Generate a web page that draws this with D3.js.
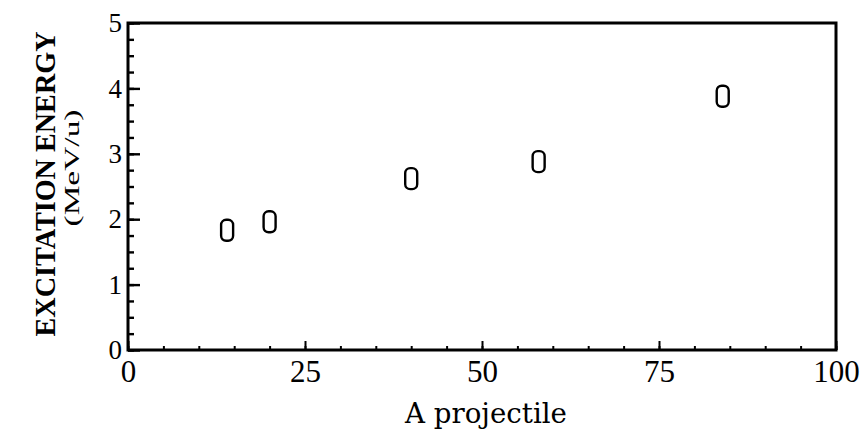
<!DOCTYPE html>
<html>
<head>
<meta charset="utf-8">
<script src="https://cdn.jsdelivr.net/npm/d3@7"></script>
<style>
  html, body { margin: 0; padding: 0; background: #fff; }
  svg { display: block; }
</style>
</head>
<body>
<svg id="chart" width="867" height="430"></svg>
<script>
// Projectile mass number vs. excitation energy per nucleon
const aProjectile = [14, 20, 40, 58, 84];
const excitation = [1.83, 1.96, 2.62, 2.88, 3.88];

const xMajorTicks = [0, 25, 50, 75, 100];
const yMajorTicks = [0, 1, 2, 3, 4, 5];
const xLabel = "A projectile";
const yLabelLines = ["EXCITATION ENERGY", "(MeV/u)"];

const svg = d3.select("#chart");
const plotL = 128, plotR = 836, plotT = 23, plotB = 350;

const x = d3.scaleLinear().domain([0, 100]).range([plotL, plotR]);
const y = d3.scaleLinear().domain([0, 5]).range([plotB, plotT]);

// minor ticks
svg.append("g")
  .attr("transform", `translate(${plotL},0)`)
  .call(d3.axisLeft(y).tickValues(d3.range(0, 5.001, 0.25)).tickSize(-6).tickFormat(""))
  .call(g => g.select(".domain").remove())
  .call(g => g.selectAll("line").attr("stroke", "#000").attr("stroke-width", 2.4));

svg.append("g")
  .attr("transform", `translate(0,${plotB})`)
  .call(d3.axisBottom(x).tickValues(d3.range(0, 100.001, 5)).tickSize(-4).tickFormat(""))
  .call(g => g.select(".domain").remove())
  .call(g => g.selectAll("line").attr("stroke", "#000").attr("stroke-width", 2));

// major ticks with labels
svg.append("g")
  .attr("transform", `translate(${plotL},0)`)
  .call(d3.axisLeft(y).tickValues(yMajorTicks).tickSize(-12).tickPadding(6).tickFormat(d3.format("d")))
  .call(g => g.select(".domain").remove())
  .call(g => g.selectAll("line").attr("stroke", "#000").attr("stroke-width", 2.4))
  .call(g => g.selectAll("text")
    .attr("fill", "#000")
    .attr("font-family", "'Liberation Serif', serif")
    .attr("font-size", 27));

svg.append("g")
  .attr("transform", `translate(0,${plotB})`)
  .call(d3.axisBottom(x).tickValues(xMajorTicks).tickSize(-9).tickPadding(10).tickFormat(d3.format("d")))
  .call(g => g.select(".domain").remove())
  .call(g => g.selectAll("line").attr("stroke", "#000").attr("stroke-width", 2))
  .call(g => g.selectAll("text")
    .attr("fill", "#000")
    .attr("font-family", "'Liberation Serif', serif")
    .attr("font-size", 31));

// plot frame
svg.append("rect")
  .attr("x", plotL).attr("y", plotT)
  .attr("width", plotR - plotL).attr("height", plotB - plotT)
  .attr("fill", "none").attr("stroke", "#000").attr("stroke-width", 3);

// data markers: open rounded boxes
const mw = 12, mh = 21;
svg.append("g").selectAll("rect")
  .data(aProjectile.map((a, i) => ({ a, e: excitation[i] })))
  .join("rect")
  .attr("x", d => x(d.a) - mw / 2)
  .attr("y", d => y(d.e) - mh / 2)
  .attr("width", mw).attr("height", mh)
  .attr("rx", 5).attr("ry", 5)
  .attr("fill", "none").attr("stroke", "#000").attr("stroke-width", 2.4);

// axis titles
svg.append("text")
  .attr("x", 486).attr("y", 423)
  .attr("text-anchor", "middle")
  .attr("font-family", "'DejaVu Serif', serif")
  .attr("font-size", 27)
  .attr("textLength", 162).attr("lengthAdjust", "spacingAndGlyphs")
  .attr("fill", "#000")
  .text(xLabel);

svg.append("text")
  .attr("transform", "translate(55,184) rotate(-90)")
  .attr("text-anchor", "middle")
  .attr("font-family", "'Liberation Serif', serif")
  .attr("font-size", 30)
  .attr("font-weight", "bold")
  .attr("textLength", 305).attr("lengthAdjust", "spacingAndGlyphs")
  .attr("fill", "#000")
  .text(yLabelLines[0]);

svg.append("text")
  .attr("transform", "translate(79,168) rotate(-90)")
  .attr("text-anchor", "middle")
  .attr("font-family", "'Liberation Serif', serif")
  .attr("font-size", 21)
  .attr("textLength", 117).attr("lengthAdjust", "spacingAndGlyphs")
  .attr("fill", "#000")
  .text(yLabelLines[1]);
</script>
</body>
</html>
